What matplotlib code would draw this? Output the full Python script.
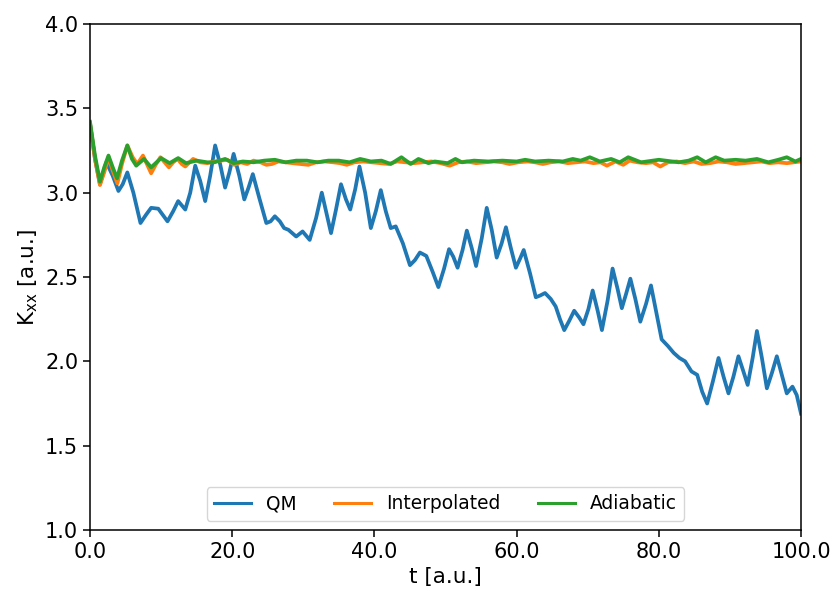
import matplotlib
matplotlib.use("Agg")
import matplotlib.pyplot as plt

# QM curve (t, K_xx)
t_qm = [0.0, 0.7, 1.4, 2.3, 3.2, 4.0, 4.6, 5.25, 6.1, 7.1, 7.9, 8.6, 9.6, 10.9,
        11.7, 12.4, 13.4, 14.1, 14.8, 15.5, 16.2, 16.9, 17.6, 18.3, 19.0, 19.6,
        20.2, 21.0, 21.7, 22.3, 22.9, 23.8, 24.8, 25.4, 26.0, 26.7, 27.3, 27.9,
        29.0, 29.9, 30.9, 31.8, 32.6, 33.2, 33.9, 34.6, 35.3, 36.0, 36.6, 37.3,
        37.9, 38.7, 39.5, 40.2, 40.9, 41.6, 42.3, 43.0, 44.0, 45.0, 45.7, 46.4,
        47.3, 48.2, 49.0, 49.8, 50.5, 51.1, 51.7, 52.4, 53.0, 53.7, 54.3, 55.1,
        55.8, 56.5, 57.2, 57.9, 58.5, 59.2, 59.9, 60.5, 61.0, 61.9, 62.7, 63.3,
        64.0, 64.8, 65.5, 66.1, 66.7, 67.4, 68.1, 68.8, 69.4, 70.1, 70.7, 71.4,
        72.0, 72.8, 73.5, 74.2, 74.8, 75.4, 76.0, 76.7, 77.4, 78.2, 78.9, 79.6,
        80.4, 81.3, 82.1, 82.9, 83.7, 84.6, 85.4, 86.1, 86.8, 87.6, 88.4, 89.1,
        89.8, 90.5, 91.2, 91.9, 92.5, 93.2, 93.8, 94.5, 95.2, 95.9, 96.6, 97.3,
        98.0, 98.8, 99.4, 100.0]
k_qm = [3.41, 3.20, 3.05, 3.18, 3.10, 3.01, 3.05, 3.12, 3.00, 2.82, 2.87, 2.91,
        2.905, 2.83, 2.89, 2.95, 2.90, 3.00, 3.16, 3.07, 2.95, 3.10, 3.28, 3.17,
        3.03, 3.12, 3.23, 3.10, 2.96, 3.03, 3.11, 2.97, 2.82, 2.83, 2.86, 2.83,
        2.79, 2.78, 2.74, 2.77, 2.72, 2.85, 3.00, 2.89, 2.76, 2.90, 3.05, 2.96,
        2.90, 3.02, 3.155, 3.00, 2.79, 2.89, 3.015, 2.89, 2.79, 2.80, 2.70, 2.57,
        2.60, 2.645, 2.625, 2.53, 2.44, 2.55, 2.665, 2.62, 2.555, 2.66, 2.775,
        2.67, 2.565, 2.73, 2.91, 2.78, 2.615, 2.70, 2.795, 2.67, 2.555, 2.61,
        2.66, 2.52, 2.38, 2.39, 2.405, 2.37, 2.325, 2.25, 2.185, 2.24, 2.30, 2.26,
        2.22, 2.31, 2.42, 2.30, 2.185, 2.36, 2.55, 2.43, 2.315, 2.40, 2.49, 2.37,
        2.235, 2.34, 2.45, 2.30, 2.13, 2.09, 2.05, 2.02, 2.00, 1.94, 1.92, 1.82,
        1.75, 1.88, 2.02, 1.91, 1.81, 1.91, 2.03, 1.94, 1.86, 2.02, 2.18, 2.02,
        1.84, 1.93, 2.03, 1.92, 1.81, 1.85, 1.80, 1.69]

# Interpolated curve
t_int = [0.0, 0.7, 1.4, 2.0, 2.6, 3.2, 3.85, 4.5, 5.25, 6.0, 6.65, 7.45, 8.0,
         8.6, 9.3, 9.9, 10.5, 11.1, 11.7, 12.3, 12.9, 13.4, 14.0, 14.5, 15.5,
         16.5, 17.5, 18.4, 19.3, 20.3, 21.2, 22.1, 23.0, 24.0, 24.8, 25.6, 26.5,
         27.5, 28.5, 29.6, 30.7, 31.8, 33.0, 34.2, 35.2, 36.1, 37.2, 38.4, 39.6,
         40.8, 42.0, 43.2, 44.4, 45.6, 46.8, 48.0, 49.3, 50.6, 51.8, 53.0, 54.3,
         55.6, 56.8, 58.0, 59.0, 60.2, 61.5, 62.6, 63.7, 64.8, 66.0, 67.2, 68.4,
         69.6, 70.8, 71.8, 72.7, 73.9, 75.0, 75.9, 77.0, 78.2, 79.2, 80.2, 81.3,
         82.5, 83.7, 84.9, 86.0, 87.2, 88.4, 89.6, 90.8, 92.0, 93.2, 94.4, 95.6,
         96.8, 98.0, 99.0, 100.0]
k_int = [3.41, 3.20, 3.045, 3.12, 3.21, 3.13, 3.055, 3.17, 3.28, 3.21, 3.17,
         3.22, 3.17, 3.115, 3.17, 3.21, 3.18, 3.15, 3.18, 3.20, 3.17, 3.155,
         3.18, 3.20, 3.18, 3.175, 3.185, 3.19, 3.195, 3.165, 3.18, 3.17, 3.19,
         3.18, 3.165, 3.17, 3.185, 3.18, 3.175, 3.17, 3.165, 3.18, 3.185, 3.18,
         3.175, 3.165, 3.18, 3.185, 3.18, 3.175, 3.17, 3.185, 3.18, 3.175, 3.18,
         3.185, 3.175, 3.16, 3.18, 3.185, 3.175, 3.18, 3.185, 3.18, 3.17, 3.18,
         3.185, 3.18, 3.17, 3.18, 3.185, 3.175, 3.18, 3.185, 3.175, 3.18, 3.16,
         3.185, 3.165, 3.19, 3.18, 3.175, 3.18, 3.155, 3.18, 3.185, 3.175, 3.185,
         3.17, 3.175, 3.185, 3.18, 3.17, 3.175, 3.18, 3.185, 3.175, 3.18, 3.175,
         3.18, 3.185]

# Adiabatic curve
t_ad = [0.0, 0.7, 1.4, 2.0, 2.6, 3.2, 3.8, 4.5, 5.25, 5.9, 6.5, 7.6, 8.6, 10.0,
        11.2, 12.4, 13.5, 15.0, 16.5, 17.5, 19.0, 20.2, 21.5, 23.0, 24.5, 26.0,
        27.5, 29.0, 30.5, 32.0, 33.5, 35.0, 36.5, 38.0, 39.5, 41.0, 42.3, 43.8,
        45.1, 46.2, 47.6, 48.5, 50.3, 51.4, 52.3, 54.0, 56.0, 58.0, 60.0, 61.2,
        62.6, 64.5, 66.5, 67.9, 69.0, 70.3, 71.7, 73.3, 74.5, 75.7, 77.5, 80.0,
        82.8, 84.2, 85.4, 86.6, 88.0, 89.2, 90.8, 92.2, 93.8, 95.4, 96.8, 98.0,
        99.2, 100.0]
k_ad = [3.42, 3.22, 3.065, 3.15, 3.22, 3.15, 3.085, 3.19, 3.28, 3.20, 3.16,
        3.20, 3.15, 3.205, 3.175, 3.205, 3.175, 3.19, 3.18, 3.18, 3.20, 3.175,
        3.185, 3.18, 3.19, 3.195, 3.18, 3.19, 3.19, 3.18, 3.19, 3.19, 3.18, 3.20,
        3.185, 3.19, 3.17, 3.21, 3.17, 3.20, 3.175, 3.185, 3.175, 3.20, 3.18,
        3.19, 3.185, 3.19, 3.185, 3.195, 3.185, 3.19, 3.185, 3.20, 3.19, 3.21,
        3.185, 3.20, 3.18, 3.21, 3.18, 3.195, 3.18, 3.19, 3.21, 3.18, 3.21, 3.19,
        3.195, 3.19, 3.20, 3.18, 3.195, 3.21, 3.185, 3.20]

xticks = [0, 20, 40, 60, 80, 100]
yticks = [1.0, 1.5, 2.0, 2.5, 3.0, 3.5, 4.0]

fig = plt.figure(figsize=(8.36, 5.92), dpi=100)
ax = fig.add_axes([90 / 836, 62 / 592, 711 / 836, 506 / 592])

lw = 2.7
ax.plot(t_qm, k_qm, color='#1f77b4', lw=lw, label='QM', solid_joinstyle='round')
ax.plot(t_int, k_int, color='#ff7f0e', lw=lw, label='Interpolated', solid_joinstyle='round')
ax.plot(t_ad, k_ad, color='#2ca02c', lw=lw, label='Adiabatic', solid_joinstyle='round')

ax.set_xlim(0, 100)
ax.set_ylim(1.0, 4.0)
ax.set_xticks(xticks)
ax.set_xticklabels(['%.1f' % v for v in xticks])
ax.set_yticks(yticks)
ax.set_yticklabels(['%.1f' % v for v in yticks])
ax.tick_params(labelsize=15, length=5, width=1.1)
for s in ax.spines.values():
    s.set_linewidth(1.1)
ax.set_xlabel('t [a.u.]', fontsize=15.5)
ax.set_ylabel(r'K$_{\mathrm{xx}}$ [a.u.]', fontsize=15.5)

leg = ax.legend(loc='lower center', ncol=3, fontsize=13.4)
for h in leg.get_lines():
    h.set_linewidth(2.2)

fig.savefig('out.png', dpi=100)
